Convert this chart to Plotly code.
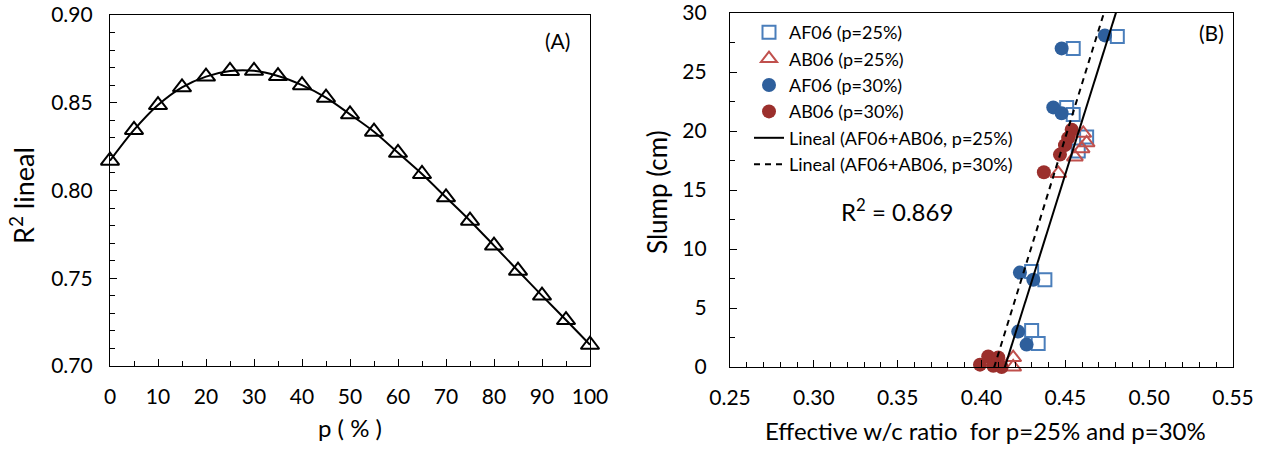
import plotly.graph_objects as go
import numpy as np

# ---------------- Panel A data ----------------
p_pct = [0, 5, 10, 15, 20, 25, 30, 35, 40, 45, 50, 55, 60, 65, 70, 75, 80, 85, 90, 95, 100]
r2_lineal = [0.817, 0.8345, 0.8487, 0.8588, 0.8649, 0.8681, 0.8682, 0.8652, 0.8600, 0.8529,
             0.8434, 0.8335, 0.8215, 0.8094, 0.7961, 0.7828, 0.7686, 0.7543, 0.7401, 0.7262, 0.7121]

# ---------------- Panel B data ----------------
af06_p25_x = [0.4810, 0.4547, 0.4508, 0.4547, 0.4627, 0.4577, 0.4299, 0.4378, 0.4299, 0.4338]
af06_p25_y = [28.0, 27.0, 22.0, 21.4, 19.5, 18.3, 8.1, 7.4, 3.1, 2.0]

ab06_p25_x = [0.4607, 0.4627, 0.4597, 0.4557, 0.4458, 0.4189, 0.4189]
ab06_p25_y = [19.8, 19.0, 18.5, 17.8, 16.4, 0.8, 0.0]

af06_p30_x = [0.4736, 0.4478, 0.4428, 0.4478, 0.4229, 0.4309, 0.4219, 0.4269]
af06_p30_y = [28.1, 27.0, 22.0, 21.5, 8.0, 7.4, 3.0, 1.9]

ab06_p30_x = [0.4538, 0.4517, 0.4498, 0.4468, 0.4372, 0.3991, 0.4040, 0.4070, 0.4100, 0.4120]
ab06_p30_y = [20.1, 19.4, 18.8, 18.0, 16.5, 0.2, 0.9, 0.1, 0.8, 0.0]

# linear fits (slope, intercept)
fit_p25 = (453.2, -187.6)
fit_p30 = (458.7, -186.97)
fit_x = [0.39, 0.50]

legend_names = ["AF06 (p=25%)", "AB06 (p=25%)", "AF06 (p=30%)", "AB06 (p=30%)",
                "Lineal (AF06+AB06, p=25%)", "Lineal (AF06+AB06, p=30%)"]

FONT = "Lato"
BLUE_SQ = "#4a7ebb"
RED_TRI = "#c0504d"
BLUE_C = "#2e5f9c"
RED_C = "#9b2f2c"

fig = go.Figure()

# Panel A
fig.add_trace(go.Scatter(
    x=p_pct, y=r2_lineal, mode="lines+markers",
    line=dict(color="black", width=2, shape="spline", smoothing=0.8),
    marker=dict(symbol="triangle-up-open", size=16, color="black", line=dict(width=2)),
    cliponaxis=False, showlegend=False, xaxis="x", yaxis="y"))

# Panel B markers
fig.add_trace(go.Scatter(
    x=af06_p25_x, y=af06_p25_y, mode="markers", name=legend_names[0],
    marker=dict(symbol="square-open", size=13, color=BLUE_SQ, line=dict(width=2)),
    cliponaxis=False, xaxis="x2", yaxis="y2"))
fig.add_trace(go.Scatter(
    x=ab06_p25_x, y=ab06_p25_y, mode="markers", name=legend_names[1],
    marker=dict(symbol="triangle-up-open", size=14, color=RED_TRI, line=dict(width=2)),
    cliponaxis=False, xaxis="x2", yaxis="y2"))
fig.add_trace(go.Scatter(
    x=af06_p30_x, y=af06_p30_y, mode="markers", name=legend_names[2],
    marker=dict(symbol="circle", size=14, color=BLUE_C),
    cliponaxis=False, xaxis="x2", yaxis="y2"))
fig.add_trace(go.Scatter(
    x=ab06_p30_x, y=ab06_p30_y, mode="markers", name=legend_names[3],
    marker=dict(symbol="circle", size=14, color=RED_C),
    cliponaxis=False, xaxis="x2", yaxis="y2"))

fx = np.array(fit_x)
fig.add_trace(go.Scatter(
    x=fx, y=fit_p25[0] * fx + fit_p25[1], mode="lines", name=legend_names[4],
    line=dict(color="black", width=2), xaxis="x2", yaxis="y2"))
fig.add_trace(go.Scatter(
    x=fx, y=fit_p30[0] * fx + fit_p30[1], mode="lines", name=legend_names[5],
    line=dict(color="black", width=2, dash="6px,5px"), xaxis="x2", yaxis="y2"))

H = 450.0
W = 1264.0
def yd(top, bottom):
    return [1 - bottom / H, 1 - top / H]

axis_common = dict(showline=True, linecolor="black", linewidth=1.3, mirror=True,
                   ticks="inside", tickcolor="black", ticklen=7, tickwidth=1.3,
                   showgrid=False, zeroline=False, automargin=False,
                   ticklabeloverflow="allow",
                   tickfont=dict(family=FONT, size=21, color="black"))
minor_common = dict(ticks="inside", ticklen=5, tickcolor="black", tickwidth=1.3)

fig.update_layout(
    width=1264, height=450,
    margin=dict(l=0, r=0, t=0, b=0),
    paper_bgcolor="white", plot_bgcolor="white",
    font=dict(family=FONT, color="black"),
    xaxis=dict(domain=[110 / W, 590 / W], range=[0, 100], tickvals=list(range(0, 101, 10)),
               minor=dict(dtick=5, **minor_common), ticklabelstandoff=12,
               anchor="y", **axis_common),
    yaxis=dict(domain=yd(15, 366), range=[0.70, 0.90], tickvals=[0.70, 0.75, 0.80, 0.85, 0.90],
               tickformat=".2f", ticklabelstandoff=12,
               minor=dict(dtick=0.01, **minor_common),
               anchor="x", **axis_common),
    xaxis2=dict(domain=[730 / W, 1233 / W], range=[0.25, 0.55],
                tickvals=[0.25, 0.30, 0.35, 0.40, 0.45, 0.50, 0.55], tickformat=".2f",
                minor=dict(dtick=0.01, **minor_common), ticklabelstandoff=12,
                anchor="y2", **axis_common),
    yaxis2=dict(domain=yd(13, 367), range=[0, 30], tickvals=[0, 5, 10, 15, 20, 25, 30],
                minor=dict(dtick=2.5, **minor_common), ticklabelstandoff=18,
                anchor="x2", **axis_common),
    legend=dict(x=749 / W, y=1 - 14 / H, xanchor="left", yanchor="top",
                bgcolor="rgba(0,0,0,0)", font=dict(family=FONT, size=18, color="black"),
                tracegroupgap=0, itemwidth=30),
    showlegend=True,
)

annotations = [
    dict(text="R<sup>2</sup> lineal", x=22 / W, y=1 - 196 / H, textangle=-90, size=27),
    dict(text="p ( % )", x=350 / W, y=1 - 427 / H, size=24),
    dict(text="(A)", x=557 / W, y=1 - 40 / H, size=21),
    dict(text="Slump (cm)", x=657 / W, y=1 - 192 / H, textangle=-90, size=26),
    dict(text="Effective w/c ratio  for p=25% and p=30%", x=985 / W, y=1 - 430 / H, size=24),
    dict(text="(B)", x=1211 / W, y=1 - 32 / H, size=21),
    dict(text="R<sup>2</sup> = 0.869", x=897 / W, y=1 - 210 / H, size=24),
]
for a in annotations:
    sz = a.pop("size")
    a.update(xref="paper", yref="paper", showarrow=False, xanchor="center", yanchor="middle",
             font=dict(family=FONT, color="black", size=sz))
fig.update_layout(annotations=annotations)

fig.write_html("out.html", config={"displayModeBar": False},
               post_script="document.body.style.margin='0';document.body.style.overflow='hidden';")
